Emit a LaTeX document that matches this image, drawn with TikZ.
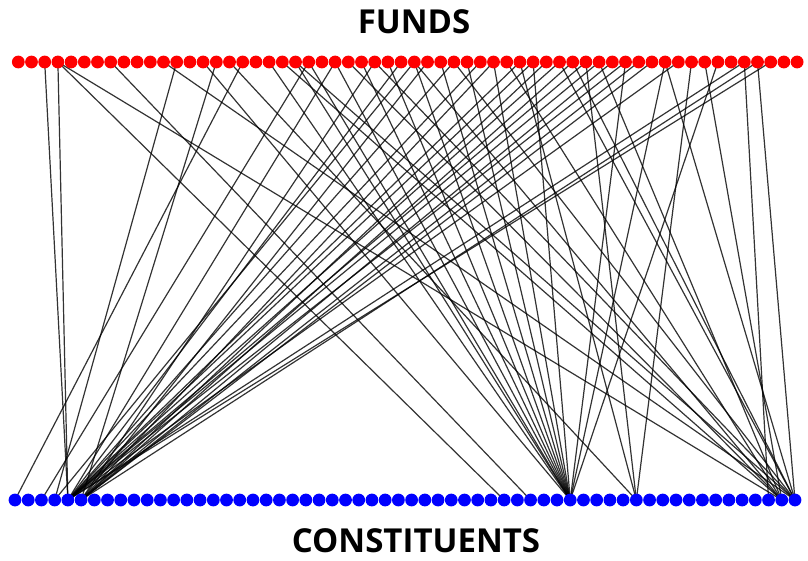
\documentclass[tikz,border=0pt]{standalone}
\usepackage{fontspec}
\setmainfont{Open Sans}
\pgfdeclarelayer{background}
\pgfsetlayers{background,main}
\begin{document}
\begin{tikzpicture}[x=1pt,y=-1pt,
  topdot/.style={circle,fill=red,inner sep=0pt,minimum size=12.8pt},
  botdot/.style={circle,fill=blue,inner sep=0pt,minimum size=12.8pt},
  link/.style={draw=black,draw opacity=0.8,line width=1.2pt},
  titletext/.style={font=\bfseries\fontsize{33}{38}\selectfont}]
\useasboundingbox (0,0) rectangle (808,560);
\foreach \k in {0,...,59} {
  \node[topdot] (t\k) at ({18.3+13.2*\k},62) {};
  \node[botdot] (b\k) at ({15+13.22*\k},500) {};
}
\node[titletext] (funds) at (414,22) {FUNDS};
\node[titletext] (cons) at (416,541) {CONSTITUENTS};
\begin{pgfonlayer}{background}
% left hub fan
\foreach \a/\b in {2/4,3/4,15/5,17/0,12/3,22/2,30/3,
  24/4,27/5,29/4,31/5,33/4,35/4,36/5,38/4,40/5,41/4,42/5,43/4,44/4,45/5,46/4,48/5,50/4,55/4,56/5,57/4,39/4,47/5}
  \draw[link] (t\a.center) -- (b\b.center);
% hub at 570
\foreach \a in {14,19,21,22,24,26,28,30,32,34,36,39,46,49,53}
  \draw[link] (t\a.center) -- (b42.center);
% right hub
\foreach \a/\b in {3/58,11/59,20/58,21/59,25/58,27/59,30/58,33/59,37/58,41/59,42/59,44/58,49/59,52/58,56/59}
  \draw[link] (t\a.center) -- (b\b.center);
% others
\foreach \a/\b in {16/47,38/47,43/47,51/47,55/57,3/37,7/39}
  \draw[link] (t\a.center) -- (b\b.center);
\end{pgfonlayer}
\end{tikzpicture}
\end{document}
